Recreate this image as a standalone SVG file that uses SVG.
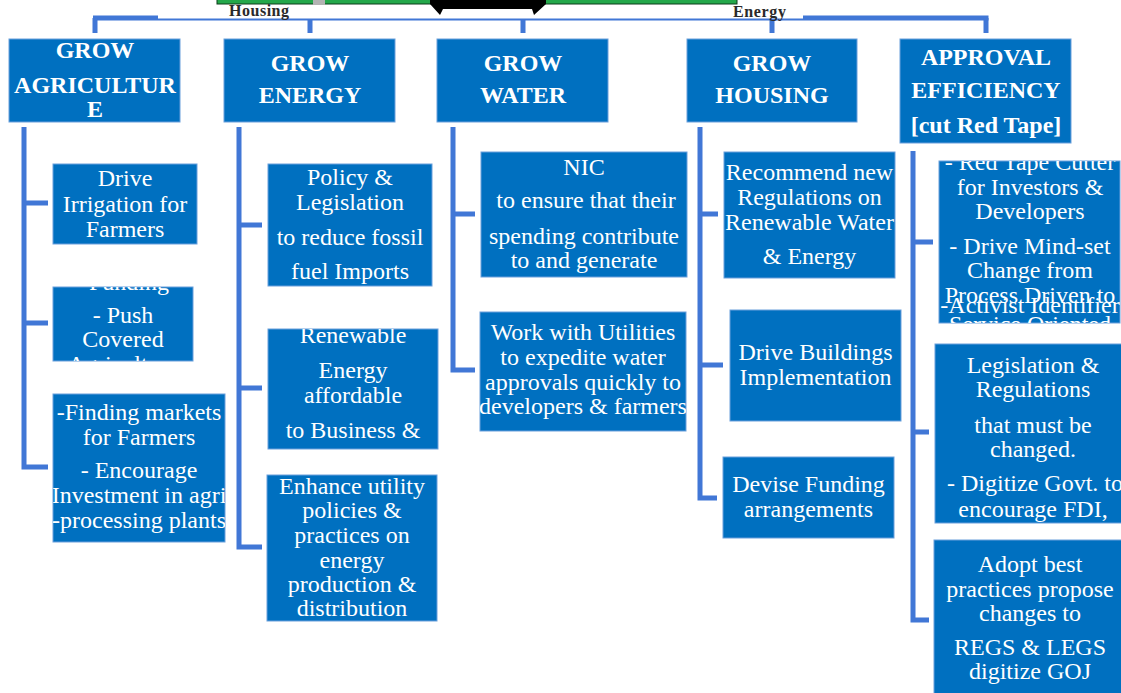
<svg xmlns="http://www.w3.org/2000/svg" width="1121" height="693" viewBox="0 0 1121 693">
<style>
.box{fill:#0070c0;stroke:#6a9fdc;stroke-width:1}
.h{font-family:"Liberation Serif","Times New Roman",serif;font-weight:bold;font-size:24px;fill:#fff;text-anchor:middle}
.t{font-family:"Liberation Serif","Times New Roman",serif;font-size:24px;fill:#fff;text-anchor:middle}
.top{font-family:"Liberation Serif","Times New Roman",serif;font-weight:bold;font-size:16px;fill:#2a2a2a}
.cn path{stroke:#4177d6;stroke-width:5;fill:none;stroke-linecap:butt;stroke-linejoin:miter}
</style>
<defs>
<clipPath id="cA1"><rect x="53" y="164" width="144" height="80"/></clipPath>
<clipPath id="cA2"><rect x="53" y="287" width="140" height="74"/></clipPath>
<clipPath id="cA3"><rect x="53" y="394" width="172" height="148"/></clipPath>
<clipPath id="cE1"><rect x="268" y="164" width="164" height="122"/></clipPath>
<clipPath id="cE2"><rect x="268" y="329" width="170" height="120"/></clipPath>
<clipPath id="cE3"><rect x="267" y="475" width="170" height="146"/></clipPath>
<clipPath id="cW1"><rect x="481" y="152" width="206" height="125"/></clipPath>
<clipPath id="cW2"><rect x="480" y="312" width="206" height="119"/></clipPath>
<clipPath id="cH1"><rect x="724" y="152" width="171" height="126"/></clipPath>
<clipPath id="cH2"><rect x="730" y="310" width="171" height="111"/></clipPath>
<clipPath id="cH3"><rect x="723" y="457" width="171" height="81"/></clipPath>
<clipPath id="cR1"><rect x="939" y="161" width="181" height="162"/></clipPath>
<clipPath id="cR2"><rect x="935" y="344" width="200" height="179"/></clipPath>
<clipPath id="cR3"><rect x="934" y="540" width="200" height="160"/></clipPath>
</defs>
<rect width="1121" height="693" fill="#fff"/>

<g class="cn" id="connectors">
<path d="M93,18 H988.5"/>
<path d="M95,18 V33 M310,18 V33 M523,18 V33 M772,18 V33 M986,18 V33"/>
<path d="M24,127 V467 H48 M24,203 H48 M24,323 H48"/>
<path d="M239,127 V547 H262 M239,225 H262 M239,388 H262"/>
<path d="M453,127 V370 H475 M453,214 H475"/>
<path d="M700,127 V498 H717 M700,214 H718 M700,365 H723"/>
<path d="M913,151 V620 H929 M913,242 H933 M913,432 H929"/>
</g>

<g id="banner">
<rect x="158" y="0" width="645" height="18.5" fill="#fff"/>
<rect x="217" y="-1" width="520" height="5" fill="#24a84a" stroke="#0d3d1a" stroke-width="1"/>
<rect x="313" y="0" width="12" height="5" fill="#b3b3b3"/>
<polygon points="430,0 546,0 546,4 534,15 532,9 443,9 440,15 430,4" fill="#000"/>
<text class="top" x="229" y="16" textLength="60">Housing</text>
<text class="top" x="733" y="17" textLength="53">Energy</text>
</g>

<g id="h-agri"><rect class="box" x="9" y="39" width="171" height="83"/>
<text class="h" x="95" y="58">GROW</text><text class="h" x="95" y="93">AGRICULTUR</text><text class="h" x="95" y="117">E</text></g>
<g id="h-energy"><rect class="box" x="224" y="39" width="171" height="83"/>
<text class="h" x="310" y="71">GROW</text><text class="h" x="310" y="103">ENERGY</text></g>
<g id="h-water"><rect class="box" x="437" y="39" width="171" height="83"/>
<text class="h" x="523" y="71">GROW</text><text class="h" x="523" y="103">WATER</text></g>
<g id="h-housing"><rect class="box" x="687" y="39" width="170" height="83"/>
<text class="h" x="772" y="71">GROW</text><text class="h" x="772" y="103">HOUSING</text></g>
<g id="h-approval"><rect class="box" x="900" y="39" width="171" height="104"/>
<text class="h" x="986" y="65">APPROVAL</text><text class="h" x="986" y="98">EFFICIENCY</text><text class="h" x="986" y="133">[cut Red Tape]</text></g>

<g id="a1"><rect class="box" x="53" y="164" width="144" height="80"/>
<g clip-path="url(#cA1)"><text class="t" x="125" y="186">Drive</text><text class="t" x="125" y="212">Irrigation for</text><text class="t" x="125" y="237">Farmers</text></g></g>
<g id="a2"><rect class="box" x="53" y="287" width="140" height="74"/>
<g clip-path="url(#cA2)"><text class="t" x="129" y="290">Funding</text><text class="t" x="123" y="323">- Push</text><text class="t" x="123" y="347">Covered</text><text class="t" x="123" y="372">Agriculture</text></g></g>
<g id="a3"><rect class="box" x="53" y="394" width="172" height="148"/>
<g clip-path="url(#cA3)"><text class="t" x="139" y="420">-Finding markets</text><text class="t" x="139" y="445">for Farmers</text><text class="t" x="139" y="478">- Encourage</text><text class="t" x="139" y="503">Investment in agri</text><text class="t" x="139" y="528">-processing plants</text></g></g>

<g id="e1"><rect class="box" x="268" y="164" width="164" height="122"/>
<g clip-path="url(#cE1)"><text class="t" x="350" y="185">Policy &amp;</text><text class="t" x="350" y="210">Legislation</text><text class="t" x="350" y="245">to reduce fossil</text><text class="t" x="350" y="279">fuel Imports</text></g></g>
<g id="e2"><rect class="box" x="268" y="329" width="170" height="120"/>
<g clip-path="url(#cE2)"><text class="t" x="353" y="343">Renewable</text><text class="t" x="353" y="378">Energy</text><text class="t" x="353" y="403">affordable</text><text class="t" x="353" y="438">to Business &amp;</text></g></g>
<g id="e3"><rect class="box" x="267" y="475" width="170" height="146"/>
<g clip-path="url(#cE3)"><text class="t" x="352" y="494">Enhance utility</text><text class="t" x="352" y="518">policies &amp;</text><text class="t" x="352" y="543">practices on</text><text class="t" x="352" y="568">energy</text><text class="t" x="352" y="592">production &amp;</text><text class="t" x="352" y="616">distribution</text></g></g>

<g id="w1"><rect class="box" x="481" y="152" width="206" height="125"/>
<g clip-path="url(#cW1)"><text class="t" x="584" y="175">NIC</text><text class="t" x="586" y="208">to ensure that their</text><text class="t" x="584" y="244">spending contribute</text><text class="t" x="584" y="268">to  and  generate</text></g></g>
<g id="w2"><rect class="box" x="480" y="312" width="206" height="119"/>
<g clip-path="url(#cW2)"><text class="t" x="583" y="340">Work with Utilities</text><text class="t" x="583" y="365">to expedite water</text><text class="t" x="583" y="390">approvals quickly to</text><text class="t" x="583" y="414">developers &amp; farmers</text></g></g>

<g id="ho1"><rect class="box" x="724" y="152" width="171" height="126"/>
<g clip-path="url(#cH1)"><text class="t" x="809.5" y="180">Recommend new</text><text class="t" x="809.5" y="205">Regulations on</text><text class="t" x="809.5" y="230">Renewable Water</text><text class="t" x="809.5" y="264">&amp; Energy</text></g></g>
<g id="ho2"><rect class="box" x="730" y="310" width="171" height="111"/>
<g clip-path="url(#cH2)"><text class="t" x="815.5" y="360">Drive Buildings</text><text class="t" x="815.5" y="385">Implementation</text></g></g>
<g id="ho3"><rect class="box" x="723" y="457" width="171" height="81"/>
<g clip-path="url(#cH3)"><text class="t" x="808.5" y="492">Devise Funding</text><text class="t" x="808.5" y="517">arrangements</text></g></g>

<g id="r1"><rect class="box" x="939" y="161" width="181" height="162"/>
<g clip-path="url(#cR1)"><text class="t" x="1030" y="170">- Red Tape Cutter</text><text class="t" x="1030" y="195">for Investors &amp;</text><text class="t" x="1030" y="219">Developers</text><text class="t" x="1030" y="254">- Drive Mind-set</text><text class="t" x="1030" y="278">Change from</text><text class="t" x="1030" y="303">Process Driven to</text><text class="t" x="1030" y="313">-Activist Identifier</text><text class="t" x="1030" y="332">Service Oriented</text></g></g>
<g id="r2"><rect class="box" x="935" y="344" width="200" height="179"/>
<g clip-path="url(#cR2)"><text class="t" x="1033" y="373">Legislation &amp;</text><text class="t" x="1033" y="397">Regulations</text><text class="t" x="1033" y="433">that must be</text><text class="t" x="1033" y="457">changed.</text><text class="t" x="1035" y="491">- Digitize Govt. to</text><text class="t" x="1033" y="517">encourage FDI,</text></g></g>
<g id="r3"><rect class="box" x="934" y="540" width="200" height="160"/>
<g clip-path="url(#cR3)"><text class="t" x="1030" y="572">Adopt best</text><text class="t" x="1030" y="597">practices propose</text><text class="t" x="1030" y="621">changes to</text><text class="t" x="1030" y="655">REGS &amp; LEGS</text><text class="t" x="1030" y="679">digitize GOJ</text></g></g>
</svg>
